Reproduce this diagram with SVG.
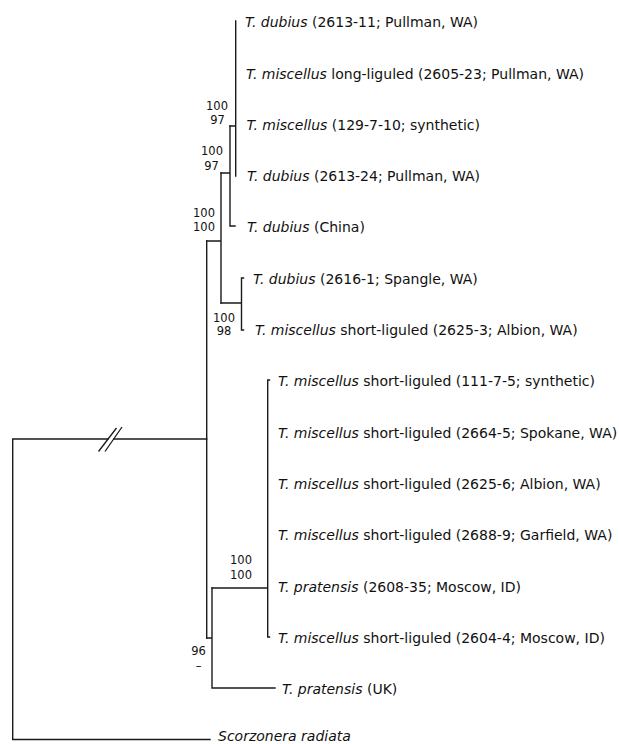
<svg xmlns="http://www.w3.org/2000/svg" width="619" height="744" viewBox="0 0 619 744">
<style>
  .br { fill: none; stroke: #1a1a1a; stroke-width: 1.4; stroke-linecap: square; }
  .brk { fill: none; stroke: #1a1a1a; stroke-width: 1.3; }
  .lbl { font-family: "DejaVu Sans", Verdana, sans-serif; font-size: 14px; fill: #111; }
  .it { font-style: italic; }
  .bs { font-family: "DejaVu Sans", Verdana, sans-serif; font-size: 11.5px; fill: #111; text-anchor: middle; }
</style>
<rect width="619" height="744" fill="#ffffff"/>
<g id="connectors">
  <!-- root and outgroup -->
  <path class="br" d="M108,439 H12.7 V739.5 H210"/>
  <path class="br" d="M114,439 H206.7"/>
  <path class="brk" d="M98.5,451.5 L116.5,428 M105,451.5 L122,427"/>
  <path class="br" d="M206.7,241 V638"/>
  <!-- upper clade -->
  <path class="br" d="M206.7,241 H221 M221,173 V303"/>
  <path class="br" d="M221,173 H230 M230,126 V226 H235"/>
  <path class="br" d="M230,126 H235.7 M235.7,21 V176"/>
  <path class="br" d="M221,303 H241.5 M243.5,278 H241.5 V330 H243.5"/>
  <!-- lower clade -->
  <path class="br" d="M206.7,638 H212 M212,588 V688 H275"/>
  <path class="br" d="M212,588 H267.7 M269.5,380 H267.7 V637 H269.5"/>
</g>
<g id="support">
  <g id="bs-a"><text class="bs" x="217" y="110">100</text><text class="bs" x="217.5" y="123.5">97</text></g>
  <g id="bs-b"><text class="bs" x="212" y="155">100</text><text class="bs" x="211.5" y="170">97</text></g>
  <g id="bs-c"><text class="bs" x="204" y="217">100</text><text class="bs" x="204" y="231">100</text></g>
  <g id="bs-d"><text class="bs" x="224" y="322">100</text><text class="bs" x="224" y="335">98</text></g>
  <g id="bs-e"><text class="bs" x="241" y="564">100</text><text class="bs" x="241" y="579">100</text></g>
  <g id="bs-f"><text class="bs" x="198.5" y="655">96</text><text class="bs" x="198.5" y="670">–</text></g>
</g>
<g id="leaf1"><text class="lbl" x="245" y="27"><tspan class="it">T. dubius</tspan> (2613-11; Pullman, WA)</text></g>
<g id="leaf2"><text class="lbl" x="246" y="78.5"><tspan class="it">T. miscellus</tspan> long-liguled (2605-23; Pullman, WA)</text></g>
<g id="leaf3"><text class="lbl" x="246.5" y="129.5"><tspan class="it">T. miscellus</tspan> (129-7-10; synthetic)</text></g>
<g id="leaf4"><text class="lbl" x="247" y="181"><tspan class="it">T. dubius</tspan> (2613-24; Pullman, WA)</text></g>
<g id="leaf5"><text class="lbl" x="247" y="232"><tspan class="it">T. dubius</tspan> (China)</text></g>
<g id="leaf6"><text class="lbl" x="253" y="283.5"><tspan class="it">T. dubius</tspan> (2616-1; Spangle, WA)</text></g>
<g id="leaf7"><text class="lbl" x="255" y="335"><tspan class="it">T. miscellus</tspan> short-liguled (2625-3; Albion, WA)</text></g>
<g id="leaf8"><text class="lbl" x="278" y="386"><tspan class="it">T. miscellus</tspan> short-liguled (111-7-5; synthetic)</text></g>
<g id="leaf9"><text class="lbl" x="278" y="437.5"><tspan class="it">T. miscellus</tspan> short-liguled (2664-5; Spokane, WA)</text></g>
<g id="leaf10"><text class="lbl" x="278" y="488.5"><tspan class="it">T. miscellus</tspan> short-liguled (2625-6; Albion, WA)</text></g>
<g id="leaf11"><text class="lbl" x="278" y="540"><tspan class="it">T. miscellus</tspan> short-liguled (2688-9; Garfield, WA)</text></g>
<g id="leaf12"><text class="lbl" x="278" y="591.5"><tspan class="it">T. pratensis</tspan> (2608-35; Moscow, ID)</text></g>
<g id="leaf13"><text class="lbl" x="278" y="642.5"><tspan class="it">T. miscellus</tspan> short-liguled (2604-4; Moscow, ID)</text></g>
<g id="leaf14"><text class="lbl" x="282" y="693.5"><tspan class="it">T. pratensis</tspan> (UK)</text></g>
<g id="leaf15"><text class="lbl it" x="218" y="740.5">Scorzonera radiata</text></g>
</svg>
